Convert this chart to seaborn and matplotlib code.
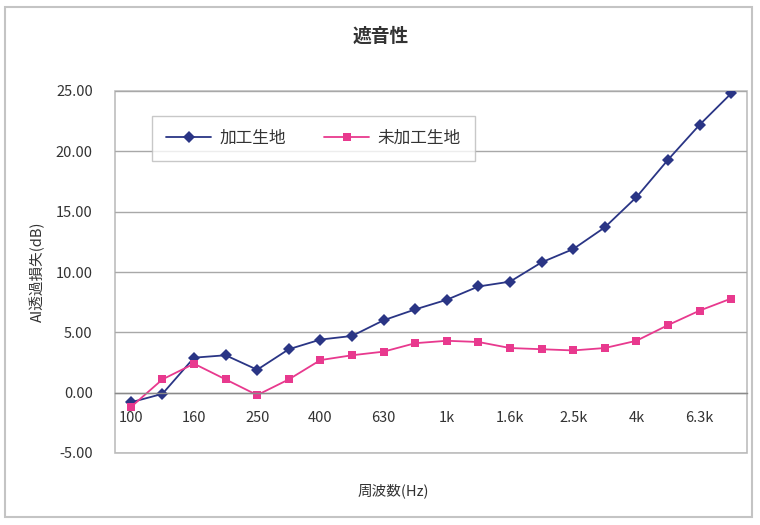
import matplotlib
matplotlib.use("Agg")
import matplotlib.pyplot as plt
from matplotlib.patches import Rectangle
from matplotlib.ticker import FixedLocator, FuncFormatter
import seaborn as sns
import pandas as pd
import numpy as np

freqs = ["100", "125", "160", "200", "250", "315", "400", "500", "630", "800",
         "1k", "1.25k", "1.6k", "2k", "2.5k", "3.15k", "4k", "5k", "6.3k", "8k"]
treated = [-0.8, -0.1, 2.9, 3.1, 1.9, 3.6, 4.4, 4.7, 6.0, 6.9,
           7.7, 8.8, 9.2, 10.8, 11.9, 13.7, 16.2, 19.3, 22.2, 24.8]
untreated = [-1.2, 1.1, 2.4, 1.1, -0.2, 1.1, 2.7, 3.1, 3.4, 4.1,
             4.3, 4.2, 3.7, 3.6, 3.5, 3.7, 4.3, 5.6, 6.8, 7.8]
series_names = ["加工生地", "未加工生地"]
title = "遮音性"
xlabel = "周波数(Hz)"
ylabel = "AI透過損失(dB)"

idx = np.arange(len(freqs))
df = pd.DataFrame({
    "idx": np.concatenate([idx, idx]),
    "val": treated + untreated,
    "series": [series_names[0]] * len(freqs) + [series_names[1]] * len(freqs),
})

sns.set_style("white")
plt.rcParams["font.family"] = ["Noto Sans CJK JP", "DejaVu Sans"]

fig = plt.figure(figsize=(7.6, 5.25), dpi=100)
ax = fig.add_axes([115 / 760, 1 - 453 / 525, 632 / 760, 362 / 525])

navy = "#2A3585"
pink = "#E8398E"
sns.lineplot(data=df, x="idx", y="val", hue="series", style="series",
             markers={series_names[0]: "D", series_names[1]: "s"},
             dashes=False, palette={series_names[0]: navy, series_names[1]: pink},
             markersize=6.3, linewidth=1.3, markeredgewidth=0, ax=ax)

ax.set_xlim(-0.5, len(freqs) - 0.5)
ax.set_ylim(-5, 25)
ax.set_yticks([-5, 0, 5, 10, 15, 20, 25])
ax.yaxis.set_major_formatter(FuncFormatter(lambda v, p: f"{v:.2f}"))
ax.yaxis.grid(True, color="#A8A8A8", linewidth=1.0)
ax.set_axisbelow(True)

# x labels at every other band
ax.xaxis.set_major_locator(FixedLocator(idx[::2]))
ax.set_xticklabels([freqs[i] for i in idx[::2]])
ax.xaxis.set_minor_locator(FixedLocator(np.arange(-0.5, len(freqs), 1.0)))

for s in ["top", "right", "left"]:
    ax.spines[s].set_visible(False)
ax.spines["bottom"].set_position(("data", 0))
ax.spines["bottom"].set_color("#8A8A8A")
ax.spines["bottom"].set_linewidth(1.0)
ax.add_patch(Rectangle((0, 0), 1, 1, transform=ax.transAxes, fill=False,
                       edgecolor="#BDBDBD", linewidth=1.2, clip_on=False, zorder=0))

ax.tick_params(axis="x", which="major", length=0, pad=13, labelsize=10.5, colors="#333333")
ax.tick_params(axis="x", which="minor", length=3, direction="in", color="#9A9A9A")
ax.tick_params(axis="y", which="major", length=0, pad=16, labelsize=10.5, colors="#333333")

ax.set_xlabel(xlabel, fontsize=10.5, color="#333333")
ax.xaxis.set_label_coords(0.44, -0.085)
ax.set_ylabel(ylabel, fontsize=10.5, color="#333333", labelpad=10)
ax.yaxis.set_label_coords(-0.11, 0.5)

fig.text(381 / 760, 1 - 36 / 525, title, ha="center", va="center",
         fontsize=13.5, color="#333333", fontweight="bold")

leg = ax.legend(loc="upper left", bbox_to_anchor=((152 - 115) / 632, (453 - 116) / 362),
                ncol=2, frameon=True, fancybox=False, borderaxespad=0,
                fontsize=12, handlelength=2.7, columnspacing=2.3,
                borderpad=0.85, handletextpad=0.5, title=None)
leg.get_frame().set_edgecolor("#BBBBBB")
leg.get_frame().set_linewidth(1.0)
for t in leg.get_texts():
    t.set_color("#333333")

fig.patches.append(Rectangle((5 / 760, 1 - 517 / 525), 747 / 760, 510 / 525,
                             transform=fig.transFigure, fill=False,
                             edgecolor="#C4C4C4", linewidth=1.5))

fig.savefig("out.png", dpi=100)
